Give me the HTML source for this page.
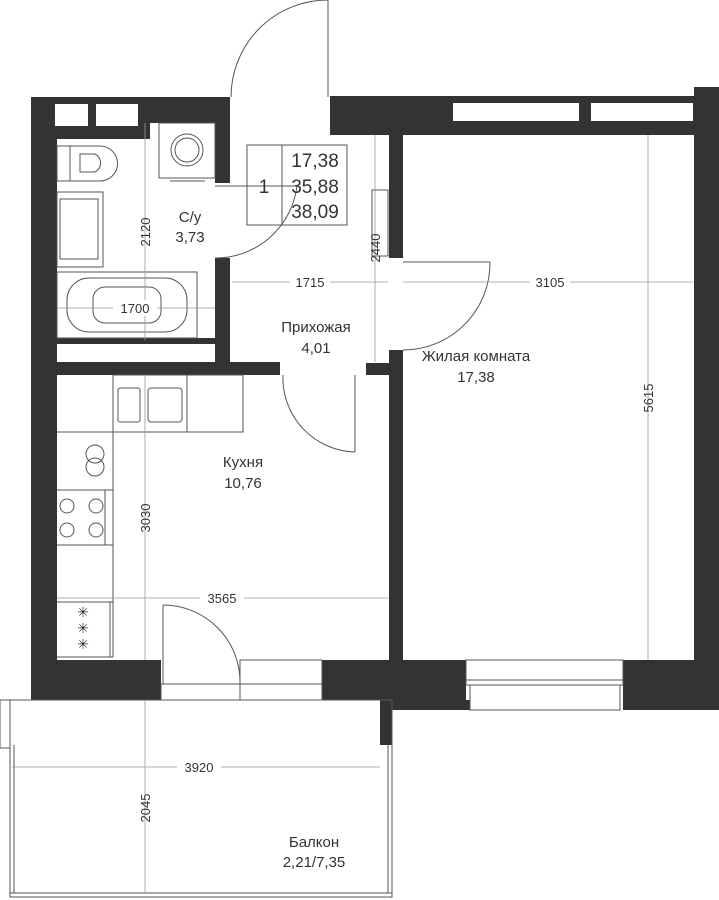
<!DOCTYPE html>
<html><head><meta charset="utf-8"><style>
html,body{margin:0;padding:0;background:#fff;}
svg{display:block;}
text{font-family:"Liberation Sans",sans-serif;fill:#333;}
</style></head><body>
<svg width="719" height="900" viewBox="0 0 719 900" xmlns="http://www.w3.org/2000/svg">
<g fill="#333">
<!-- left outer wall -->
<rect x="31" y="97" width="26" height="603"/>
<rect x="31" y="97" width="199" height="26"/>
<rect x="31" y="97" width="119" height="42"/>
<rect x="215" y="97" width="15" height="86"/>
<rect x="215" y="258" width="15" height="117"/>
<rect x="57" y="338" width="158" height="6"/>
<rect x="57" y="362" width="223" height="13"/>
<!-- top right -->
<rect x="330" y="96" width="389" height="39"/>
<rect x="694" y="87" width="25" height="623"/>
<rect x="389" y="135" width="14" height="123"/>
<rect x="389" y="350" width="14" height="310"/>
<rect x="366" y="363" width="24" height="12"/>
<!-- bottom -->
<rect x="31" y="660" width="130" height="40"/>
<rect x="322" y="660" width="144" height="40"/>
<rect x="380" y="700" width="90" height="10"/>
<rect x="380" y="700" width="12" height="45"/>
<rect x="623" y="660" width="96" height="50"/>
</g>
<g fill="#fff">
<rect x="55" y="104" width="33" height="22"/>
<rect x="96" y="104" width="42" height="22"/>
<rect x="453" y="103" width="126" height="18"/>
<rect x="591" y="103" width="102" height="18"/>
</g>
<g fill="none" stroke="#555" stroke-width="1">
<!-- windows bottom -->
<rect x="240" y="660" width="82" height="24"/>
<rect x="240" y="684" width="82" height="16"/>
<rect x="161" y="684" width="79" height="16"/>
<rect x="466" y="660" width="157" height="20"/>
<rect x="466" y="680" width="157" height="5"/>
<rect x="470" y="685" width="150" height="25"/>
<!-- balcony -->
<rect x="10" y="700" width="382" height="197"/>
<line x1="14" y1="745" x2="14" y2="893"/>
<line x1="388" y1="745" x2="388" y2="893"/>
<line x1="10" y1="893" x2="392" y2="893"/>
<rect x="0" y="700" width="10" height="48"/>
<!-- doors -->
<line x1="328" y1="0" x2="328" y2="97"/>
<path d="M328 0 A97 97 0 0 0 231 97"/>
<line x1="215" y1="186" x2="297" y2="186"/>
<path d="M297 186 A82 82 0 0 1 215 258"/>
<line x1="403" y1="262" x2="490" y2="262"/>
<path d="M490 262 A87 87 0 0 1 403 350"/>
<line x1="355" y1="375" x2="355" y2="452"/>
<path d="M283 375 A74 74 0 0 0 355 452"/>
<line x1="163" y1="605" x2="163" y2="684"/>
<path d="M163 605 A77 77 0 0 1 240 684"/>
<!-- radiator -->
<rect x="372" y="190" width="16" height="66"/>
<!-- bathroom fixtures -->
<rect x="159" y="123" width="56" height="55"/>
<circle cx="187" cy="150" r="16"/><circle cx="187" cy="150" r="12"/>
<line x1="170" y1="181" x2="205" y2="181"/>
<rect x="57" y="146" width="13" height="35"/>
<path d="M70 146 H100 A17 17 0 0 1 100 181 H70 Z"/>
<path d="M80 154 H95 A10 10 0 0 1 95 172 H80 Z"/>
<rect x="57" y="192" width="46" height="75"/>
<rect x="60" y="199" width="38" height="60"/>
<rect x="57" y="272" width="140" height="66"/>
<rect x="67" y="278" width="120" height="54" rx="22"/>
<rect x="93" y="287" width="68" height="36" rx="12"/>
<!-- kitchen -->
<rect x="113" y="375" width="130" height="57"/>
<line x1="187" y1="375" x2="187" y2="432"/>
<rect x="118" y="388" width="22" height="34" rx="2"/>
<rect x="148" y="388" width="34" height="34" rx="3"/>
<line x1="57" y1="432" x2="113" y2="432"/>
<line x1="113" y1="432" x2="113" y2="657"/>
<line x1="57" y1="490" x2="113" y2="490"/>
<line x1="57" y1="545" x2="113" y2="545"/>
<line x1="57" y1="602" x2="113" y2="602"/>
<line x1="57" y1="657" x2="113" y2="657"/>
<line x1="105" y1="490" x2="105" y2="545"/>
<line x1="110" y1="602" x2="110" y2="657"/>
<circle cx="95" cy="454" r="9"/><circle cx="95" cy="467" r="9"/>
<circle cx="67" cy="506" r="7"/><circle cx="96" cy="506" r="7"/>
<circle cx="67" cy="530" r="7"/><circle cx="96" cy="530" r="7"/>
<!-- area table -->
<rect x="247" y="145" width="100" height="80"/>
<line x1="282" y1="145" x2="282" y2="225"/>
<line x1="230" y1="186" x2="290" y2="186"/>
</g>
<g font-size="14" fill="#555" text-anchor="middle">
<text x="83" y="617">✳</text><text x="83" y="633">✳</text><text x="83" y="649">✳</text>
</g>
<!-- dimension lines -->
<g stroke="#999" stroke-width="0.8">
<line x1="145" y1="123" x2="145" y2="340"/>
<line x1="57" y1="308" x2="215" y2="308"/>
<line x1="232" y1="282" x2="388" y2="282"/>
<line x1="403" y1="282" x2="693" y2="282"/>
<line x1="375" y1="135" x2="375" y2="362"/>
<line x1="648" y1="135" x2="648" y2="660"/>
<line x1="145" y1="375" x2="145" y2="660"/>
<line x1="57" y1="598" x2="388" y2="598"/>
<line x1="12" y1="767" x2="380" y2="767"/>
<line x1="145" y1="700" x2="145" y2="893"/>
</g>
<g font-size="13" text-anchor="middle" fill="#333">
<rect x="113" y="300" width="44" height="16" fill="#fff"/>
<text x="135" y="313">1700</text>
<rect x="290" y="274" width="40" height="16" fill="#fff"/>
<text x="310" y="287">1715</text>
<rect x="530" y="274" width="40" height="16" fill="#fff"/>
<text x="550" y="287">3105</text>
<rect x="200" y="590" width="44" height="16" fill="#fff"/>
<text x="222" y="603">3565</text>
<rect x="177" y="759" width="44" height="16" fill="#fff"/>
<text x="199" y="772">3920</text>
<text transform="translate(150,232) rotate(-90)">2120</text>
<text transform="translate(380,248) rotate(-90)">2440</text>
<text transform="translate(653,398) rotate(-90)">5615</text>
<text transform="translate(150,518) rotate(-90)">3030</text>
<text transform="translate(150,808) rotate(-90)">2045</text>
</g>
<g font-size="15" text-anchor="middle" fill="#333">
<text x="190" y="222">С/у</text><text x="190" y="242">3,73</text>
<text x="316" y="332">Прихожая</text><text x="316" y="353">4,01</text>
<text x="476" y="361">Жилая комната</text><text x="476" y="382">17,38</text>
<text x="243" y="467">Кухня</text><text x="243" y="488">10,76</text>
<text x="314" y="847">Балкон</text><text x="314" y="867">2,21/7,35</text>
</g>
<g font-size="19" fill="#333" text-anchor="middle">
<text x="315" y="167">17,38</text>
<text x="315" y="193">35,88</text>
<text x="315" y="218">38,09</text>
<text x="264" y="193">1</text>
</g>
</svg>
</body></html>
